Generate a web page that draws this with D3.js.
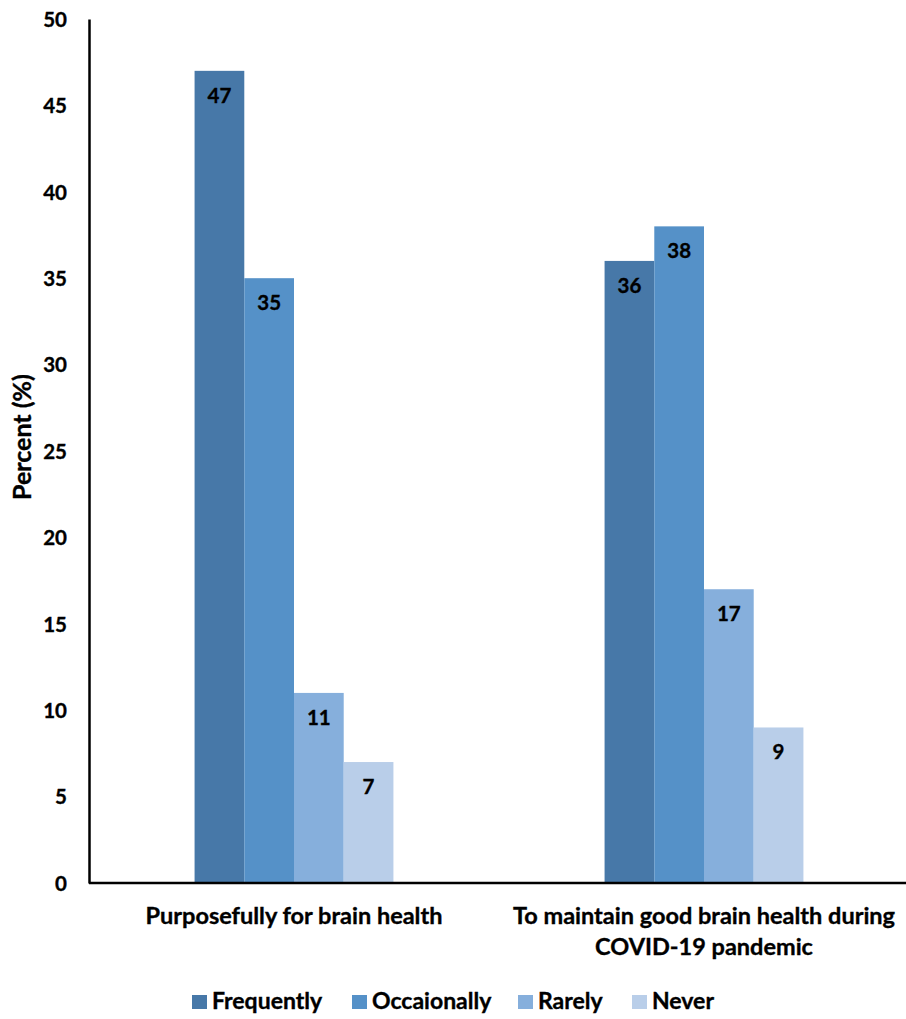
<!DOCTYPE html>
<html>
<head>
<meta charset="utf-8">
<script src="https://cdn.jsdelivr.net/npm/d3@7"></script>
<style>
  html, body { margin: 0; padding: 0; background: #fff; }
  svg text { font-family: Lato, "Open Sans", sans-serif; font-weight: bold; fill: #000; stroke: #000; stroke-width: 0.35px; }
</style>
</head>
<body>
<svg id="chart" width="906" height="1019"></svg>
<script>
// Survey answers: how often participants do the activity
const categories = [
  ["Purposefully for brain health"],
  ["To maintain good brain health during", "COVID-19 pandemic"]
];
const seriesNames = ["Frequently", "Occaionally", "Rarely", "Never"];
const frequently  = [47, 36];
const occaionally = [35, 38];
const rarely      = [11, 17];
const never       = [7, 9];
const yTicks = [0, 5, 10, 15, 20, 25, 30, 35, 40, 45, 50];
const colors = ["#4778a8", "#5591c8", "#86afdc", "#b9cee9"];

const seriesValues = [frequently, occaionally, rarely, never];
const catKeys = categories.map((c, i) => i);

const svg = d3.select("#chart");
const plot = { left: 89, right: 909, top: 19, bottom: 883 };

const x0 = d3.scaleBand()
  .domain(catKeys)
  .range([plot.left, plot.right])
  .paddingInner(0.515)
  .paddingOuter(0.2575);

const x1 = d3.scaleBand()
  .domain(seriesNames)
  .range([0, x0.bandwidth()]);

const y = d3.scaleLinear().domain([0, 50]).range([plot.bottom, plot.top]);
const color = d3.scaleOrdinal().domain(seriesNames).range(colors);

// bars, grouped by category
const groups = svg.append("g").selectAll("g")
  .data(catKeys)
  .join("g")
  .attr("transform", d => `translate(${x0(d)},0)`);

const barData = ci => seriesNames.map((s, si) => ({ s, v: seriesValues[si][ci] }));

groups.selectAll("rect")
  .data(ci => barData(ci))
  .join("rect")
  .attr("x", d => x1(d.s))
  .attr("width", x1.bandwidth())
  .attr("y", d => y(d.v))
  .attr("height", d => y(0) - y(d.v))
  .attr("fill", d => color(d.s));

// value labels inside the top of each bar
groups.selectAll("text.val")
  .data(ci => barData(ci))
  .join("text")
  .attr("class", "val")
  .attr("x", d => x1(d.s) + x1.bandwidth() / 2)
  .attr("y", d => y(d.v) + 32)
  .attr("text-anchor", "middle")
  .style("font-size", "20.5px")
  .text(d => d.v);

// y axis
const yAxis = svg.append("g")
  .attr("transform", `translate(${plot.left},0)`)
  .call(d3.axisLeft(y).tickValues(yTicks).tickSize(0).tickPadding(22));
yAxis.select(".domain").attr("stroke", "#000").attr("stroke-width", 2.5);
yAxis.selectAll(".tick text")
  .style("font-size", "20.5px")
  .style("font-family", "Lato, sans-serif")
  .attr("dy", "0.36em");

// x axis line and wrapped category labels
const xAxis = svg.append("g")
  .attr("transform", `translate(0,${plot.bottom})`)
  .call(d3.axisBottom(x0).tickSize(0).tickFormat(""));
xAxis.select(".domain").attr("stroke", "#000").attr("stroke-width", 2.5)
  .attr("d", `M${plot.left},0H906`);

svg.append("g").selectAll("text")
  .data(catKeys)
  .join("text")
  .attr("x", d => x0(d) + x0.bandwidth() / 2)
  .attr("y", plot.bottom + 41)
  .attr("text-anchor", "middle")
  .style("font-size", "23.5px")
  .each(function (d) {
    d3.select(this).selectAll("tspan")
      .data(categories[d])
      .join("tspan")
      .attr("x", x0(d) + x0.bandwidth() / 2)
      .attr("dy", (t, i) => i === 0 ? 0 : 31)
      .text(t => t);
  });

// y axis title
svg.append("text")
  .attr("transform", "translate(31,437) rotate(-90)")
  .attr("text-anchor", "middle")
  .style("font-size", "25px")
  .text("Percent (%)");

// legend
const legendX = [192, 352, 518, 632];
const legend = svg.append("g").selectAll("g")
  .data(seriesNames)
  .join("g")
  .attr("transform", (d, i) => `translate(${legendX[i]},995)`);
legend.append("rect")
  .attr("width", 15).attr("height", 14)
  .attr("fill", d => color(d));
legend.append("text")
  .attr("x", 20).attr("y", 14)
  .style("font-size", "23px")
  .text(d => d);
</script>
</body>
</html>
